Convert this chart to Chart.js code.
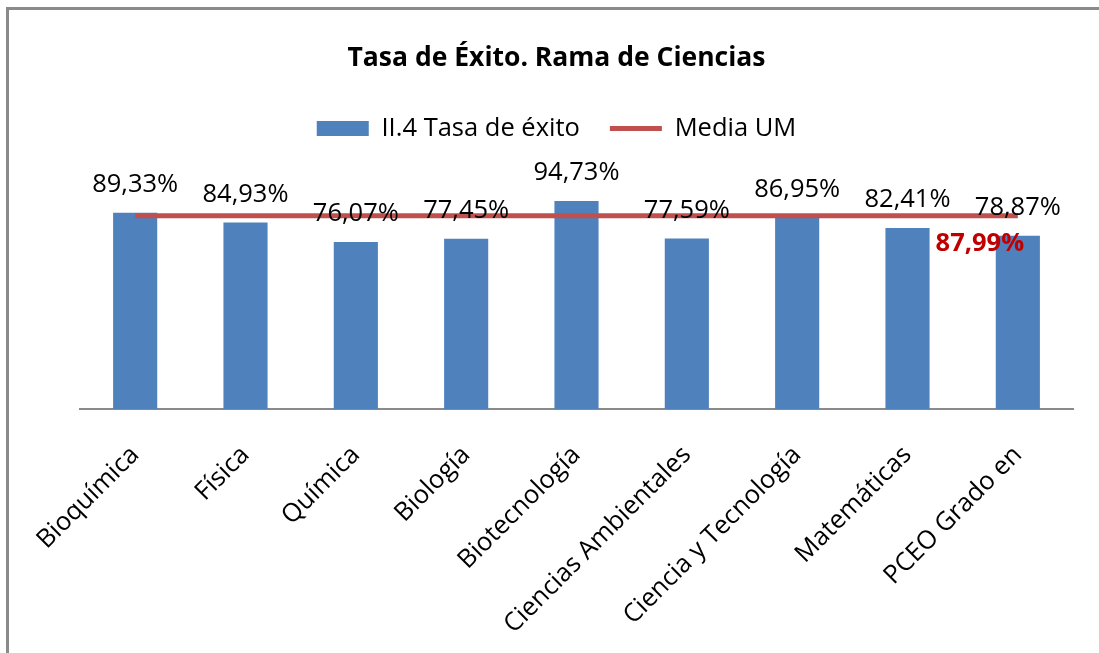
<!DOCTYPE html>
<html lang="es">
<head>
<meta charset="utf-8">
<title>Tasa de Éxito. Rama de Ciencias</title>
<script src="https://cdn.jsdelivr.net/npm/chart.js@4.4.1/dist/chart.umd.min.js"></script>
<style>
  html, body { margin: 0; padding: 0; background: #fff; }
  body { width: 1099px; height: 653px; position: relative; overflow: hidden; }
  .frame {
    position: absolute; left: 6px; top: 7px; right: -10px; bottom: -10px;
    border-top: 3px solid #8a8a8a; border-left: 3px solid #8a8a8a;
  }
  .chart-wrap { position: absolute; left: 0; top: 0; width: 1099px; height: 653px; }
</style>
</head>
<body>
<div class="frame"></div>
<div class="chart-wrap"><canvas id="exito-chart"></canvas></div>

<script>
// ── Data ──────────────────────────────────────────────────────

const titulaciones = [
  'Bioquímica', 'Física', 'Química', 'Biología', 'Biotecnología',
  'Ciencias Ambientales', 'Ciencia y Tecnología', 'Matemáticas', 'PCEO Grado en',
];
const tasaExito = [89.33, 84.93, 76.07, 77.45, 94.73, 77.59, 86.95, 82.41, 78.87];
const mediaUM   = [87.99, 87.99, 87.99, 87.99, 87.99, 87.99, 87.99, 87.99, 87.99];

const SERIE_BARRAS = 'II.4 Tasa de éxito';
const SERIE_MEDIA  = 'Media UM';
const TITULO       = 'Tasa de Éxito. Rama de Ciencias';

const FONT    = "'Open Sans', 'DejaVu Sans', sans-serif";
const AZUL    = '#4F81BD';
const ROJO    = '#C0504D';
const ROJO_TX = '#C00000';

const fmtPct = v => v.toFixed(2).replace('.', ',') + '%';

// ── Value labels ──────────────────────────────────────────────

const valueLabels = {
  id: 'valueLabels',
  afterDatasetsDraw(chart) {
    const { ctx } = chart;
    ctx.save();
    ctx.textAlign = 'center';
    ctx.textBaseline = 'middle';

    // bar values, above each bar
    ctx.font = `25.5px ${FONT}`;
    ctx.fillStyle = '#000';
    chart.getDatasetMeta(0).data.forEach((bar, i) => {
      ctx.fillText(fmtPct(tasaExito[i]), bar.x, bar.y - 28);
    });

    // mean value, only beside the last point of the line
    const pts  = chart.getDatasetMeta(1).data;
    const last = pts[pts.length - 1];
    ctx.font = `bold 25.5px ${FONT}`;
    ctx.fillStyle = ROJO_TX;
    ctx.fillText(fmtPct(mediaUM[mediaUM.length - 1]), last.x - 38, last.y + 28);
    ctx.restore();
  },
};

// ── Chart ─────────────────────────────────────────────────────

Chart.defaults.font.family = FONT;
Chart.defaults.color = '#000';

new Chart(document.getElementById('exito-chart'), {
  type: 'bar',
  data: {
    labels: titulaciones,
    datasets: [
      {
        label: SERIE_BARRAS,
        data:  tasaExito,
        backgroundColor: AZUL,
        borderWidth: 0,
        barPercentage: 0.4,
        categoryPercentage: 1,
        pointStyle: 'rect',
        order: 1,
      },
      {
        type:  'line',
        label: SERIE_MEDIA,
        data:  mediaUM,
        borderColor: ROJO,
        backgroundColor: ROJO,
        borderWidth: 5,
        pointRadius: 0,
        pointStyle: 'line',
        order: 0,
      },
    ],
  },
  options: {
    responsive: true,
    maintainAspectRatio: false,
    animation: false,
    layout: { padding: { top: 33, left: 40, right: 26, bottom: 0 } },
    plugins: {
      title: {
        display: true,
        text: TITULO,
        font: { size: 26.5, weight: 'bold', family: FONT },
        padding: { top: 10, bottom: 11 },
      },
      legend: {
        position: 'top',
        labels: {
          usePointStyle: true,
          pointStyleWidth: 52,
          boxHeight: 15,
          padding: 30,
          font: { size: 25.5, family: FONT },
          sort: (a, b) => a.datasetIndex - b.datasetIndex,
        },
      },
      tooltip: { enabled: false },
    },
    scales: {
      x: {
        grid: { display: false, drawTicks: false },
        border: { display: true, color: '#8a8a8a', width: 2 },
        ticks: {
          minRotation: 45, maxRotation: 45, padding: 31,
          font: { size: 25.5, family: FONT },
        },
        afterFit: scale => { scale.height = 653 - 409; },
      },
      y: {
        // hidden value axis: no ticks, no grid, just a left margin
        display: true,
        min: 0,
        max: 117.3,
        grid:   { display: false },
        border: { display: false },
        ticks:  { display: false },
        afterFit: scale => { scale.width = 40; },
      },
    },
  },
  plugins: [valueLabels],
});
</script>
</body>
</html>
